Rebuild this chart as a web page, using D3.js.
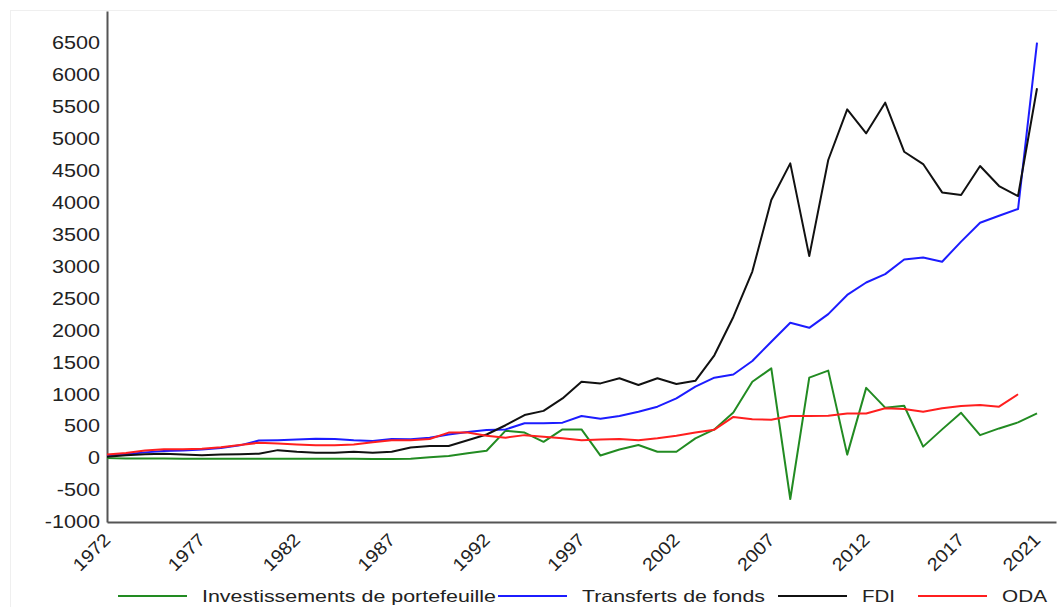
<!DOCTYPE html>
<html lang="fr">
<head>
<meta charset="UTF-8">
<title>Flux financiers</title>
<script src="https://d3js.org/d3.v7.min.js"></script>
<style>
  body { margin: 0; background: #fff; }
  text { font-family: "Liberation Sans", Arial, sans-serif; fill: #222; }
</style>
</head>
<body>
<script>
// data, 1972 -> 2021
var years = d3.range(1972, 2022);
var portefeuille = [0, -5, -5, -5, -10, -10, -10, -10, -10, -10,
  -10, -10, -10, -10, -15, -15, -10, 15, 35, 75,
  115, 430, 400, 255, 450, 450, 40, 135, 205, 100,
  100, 310, 450, 715, 1195, 1405, -640, 1260, 1370, 55,
  1100, 790, 820, 180, 450, 710, 360, 465, 560, 700];
var transferts = [45, 60, 90, 110, 120, 135, 160, 200, 275, 280,
  290, 305, 300, 280, 270, 300, 295, 320, 370, 410,
  440, 450, 545, 545, 555, 660, 615, 660, 725, 805,
  935, 1120, 1260, 1310, 1520, 1822, 2120, 2040, 2255, 2555,
  2750, 2880, 3110, 3140, 3075, 3390, 3685, 3795, 3900, 6505];
var fdi = [20, 45, 60, 70, 55, 45, 55, 60, 70, 125,
  100, 85, 85, 100, 85, 100, 165, 190, 190, 280,
  370, 515, 675, 740, 935, 1195, 1170, 1250, 1145, 1250,
  1160, 1210, 1610, 2210, 2920, 4040, 4615, 3163, 4667, 5460,
  5085, 5565, 4797, 4604, 4160, 4120, 4573, 4260, 4103, 5790];
var oda = [55, 80, 120, 140, 140, 145, 170, 205, 240, 230,
  215, 200, 200, 215, 250, 280, 280, 300, 400, 400,
  350, 320, 360, 335, 310, 280, 290, 300, 280, 310,
  350, 400, 445, 645, 610, 600, 660, 660, 665, 700,
  700, 780, 770, 725, 780, 815, 830, 805, 1000, null];

var seriesNames = ["Investissements de portefeuille", "Transferts de fonds", "FDI", "ODA"];
var seriesValues = [portefeuille, transferts, fdi, oda];
var colors = ["#228b22", "#1c1cff", "#111111", "#ff1f1f"];
var yTicks = [-1000, -500, 0, 500, 1000, 1500, 2000, 2500, 3000, 3500, 4000, 4500, 5000, 5500, 6000, 6500];
var xTicks = [1972, 1977, 1982, 1987, 1992, 1997, 2002, 2007, 2012, 2017, 2021];

var w = 1057, h = 607;

var svg = d3.select("body").append("svg")
    .attr("width", w)
    .attr("height", h);

svg.append("rect")
    .attr("x", 10.5).attr("y", 10.5)
    .attr("width", 1050).attr("height", 610)
    .attr("fill", "none")
    .attr("stroke", "#efefef");

var x = d3.scaleLinear().domain([1972, 2022]).range([107, 1056]);
var y = d3.scaleLinear().domain([-1000, 7000]).range([522, 11]);

// the picture's text is a bit wider than the font, so stretch it
function stretch(sel, k) {
    sel.each(function () {
        var len = this.getComputedTextLength();
        d3.select(this).attr("textLength", len * k).attr("lengthAdjust", "spacingAndGlyphs");
    });
}

// y axis
var gy = svg.append("g")
    .attr("transform", "translate(" + x(1972) + ",0)")
    .call(d3.axisLeft(y).tickValues(yTicks).tickFormat(function (d) { return String(d); })
        .tickSize(0).tickPadding(7));
gy.select(".domain").attr("stroke", "#555").attr("stroke-width", 2);
gy.selectAll("text").style("font-size", "18px").attr("fill", "#222");
stretch(gy.selectAll("text"), 1.2);

// x axis
var gx = svg.append("g")
    .attr("transform", "translate(0," + y(-1000) + ")")
    .call(d3.axisBottom(x).tickValues(xTicks).tickFormat(function (d) { return String(d); }).tickSize(0));
gx.select(".domain").attr("stroke", "#555").attr("stroke-width", 2);
gx.selectAll("text")
    .style("font-size", "18px")
    .attr("fill", "#222")
    .attr("x", 0).attr("y", 0).attr("dy", 0)
    .attr("text-anchor", "end")
    .attr("transform", "translate(4,19) rotate(-45)");
stretch(gx.selectAll("text"), 1.1);

// lines
var line = d3.line()
    .defined(function (d) { return d.v != null; })
    .x(function (d) { return x(d.year); })
    .y(function (d) { return y(d.v); });

seriesValues.forEach(function (vals, i) {
    var pts = years.map(function (yr, j) { return { year: yr, v: vals[j] }; });
    svg.append("path")
        .datum(pts)
        .attr("fill", "none")
        .attr("stroke", colors[i])
        .attr("stroke-width", 2)
        .attr("stroke-linejoin", "round")
        .attr("d", line);
});

// legend
var legendX = [118, 498, 778, 918];
var legendW = [294, 183, 33, 45];
var lg = svg.append("g").attr("transform", "translate(0,596)");
seriesNames.forEach(function (name, i) {
    var g = lg.append("g").attr("transform", "translate(" + legendX[i] + ",0)");
    g.append("line")
        .attr("x1", 0).attr("x2", 69)
        .attr("y1", 0).attr("y2", 0)
        .attr("stroke", colors[i])
        .attr("stroke-width", 2);
    g.append("text")
        .attr("x", 84).attr("y", 6)
        .style("font-size", "16.5px")
        .attr("textLength", legendW[i])
        .attr("lengthAdjust", "spacingAndGlyphs")
        .text(name);
});
</script>
</body>
</html>
